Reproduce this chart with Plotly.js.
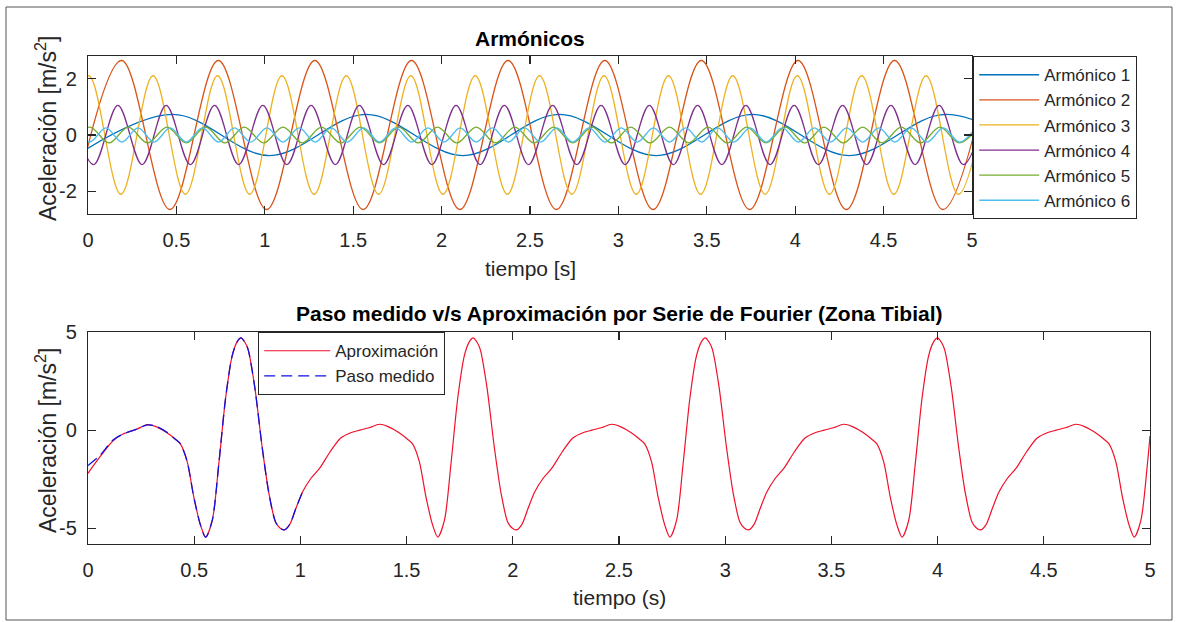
<!DOCTYPE html>
<html>
<head>
<meta charset="utf-8">
<script src="https://cdn.plot.ly/plotly-3.0.1.min.js"></script>
<style>html,body{margin:0;padding:0;background:#fff;}#chart{width:1179px;height:622px;}</style>
</head>
<body>
<div id="chart"></div>
<script>
// ---------- data ----------
const harmonicNames = ['Armónico 1', 'Armónico 2', 'Armónico 3', 'Armónico 4', 'Armónico 5', 'Armónico 6'];
const harmonicColors = ['#0072BD', '#D95319', '#EDB120', '#7E2F8E', '#77AC30', '#4DBEEE'];

// extremes (peaks / troughs) of each harmonic, time [s] and value [m/s^2]
const h1Time = [-0.067, 0.48, 1.027, 1.573, 2.12, 2.666, 3.213, 3.759, 4.306, 4.852, 5.399];
const h1Value = [-0.73, 0.73, -0.73, 0.73, -0.73, 0.73, -0.73, 0.73, -0.73, 0.73, -0.73];

const h2Time = [-0.083, 0.19, 0.463, 0.737, 1.01, 1.283, 1.556, 1.83, 2.103, 2.376, 2.649, 2.923, 3.196, 3.469, 3.742, 4.016, 4.289, 4.562, 4.835, 5.109];
const h2Value = [-2.64, 2.64, -2.64, 2.64, -2.64, 2.64, -2.64, 2.64, -2.64, 2.64, -2.64, 2.64, -2.64, 2.64, -2.64, 2.64, -2.64, 2.64, -2.64, 2.64];

const h3Time = [-0.178, 0.004, 0.186, 0.368, 0.551, 0.733, 0.915, 1.097, 1.279, 1.461, 1.644, 1.826, 2.008, 2.19, 2.372, 2.554, 2.737, 2.919, 3.101, 3.283, 3.465, 3.647, 3.83, 4.012, 4.194, 4.376, 4.558, 4.74, 4.923, 5.105];
const h3Value = [-2.1, 2.1, -2.1, 2.1, -2.1, 2.1, -2.1, 2.1, -2.1, 2.1, -2.1, 2.1, -2.1, 2.1, -2.1, 2.1, -2.1, 2.1, -2.1, 2.1, -2.1, 2.1, -2.1, 2.1, -2.1, 2.1, -2.1, 2.1, -2.1, 2.1];

const h4Time = [-0.104, 0.032, 0.169, 0.306, 0.442, 0.579, 0.716, 0.852, 0.989, 1.125, 1.262, 1.399, 1.535, 1.672, 1.809, 1.945, 2.082, 2.218, 2.355, 2.492, 2.628, 2.765, 2.902, 3.038, 3.175, 3.311, 3.448, 3.585, 3.721, 3.858, 3.994, 4.131, 4.268, 4.404, 4.541, 4.678, 4.814, 4.951, 5.088];
const h4Value = [1.05, -1.05, 1.05, -1.05, 1.05, -1.05, 1.05, -1.05, 1.05, -1.05, 1.05, -1.05, 1.05, -1.05, 1.05, -1.05, 1.05, -1.05, 1.05, -1.05, 1.05, -1.05, 1.05, -1.05, 1.05, -1.05, 1.05, -1.05, 1.05, -1.05, 1.05, -1.05, 1.05, -1.05, 1.05, -1.05, 1.05, -1.05, 1.05];

const h5Time = [-0.100, 0.010, 0.119, 0.228, 0.337, 0.447, 0.556, 0.665, 0.775, 0.884, 0.993, 1.103, 1.212, 1.321, 1.430, 1.540, 1.649, 1.758, 1.868, 1.977, 2.086, 2.196, 2.305, 2.414, 2.523, 2.633, 2.742, 2.851, 2.961, 3.070, 3.179, 3.289, 3.398, 3.507, 3.616, 3.726, 3.835, 3.944, 4.054, 4.163, 4.272, 4.382, 4.491, 4.600, 4.709, 4.819, 4.928, 5.037];
const h5Value = [-0.28, 0.28, -0.28, 0.28, -0.28, 0.28, -0.28, 0.28, -0.28, 0.28, -0.28, 0.28, -0.28, 0.28, -0.28, 0.28, -0.28, 0.28, -0.28, 0.28, -0.28, 0.28, -0.28, 0.28, -0.28, 0.28, -0.28, 0.28, -0.28, 0.28, -0.28, 0.28, -0.28, 0.28, -0.28, 0.28, -0.28, 0.28, -0.28, 0.28, -0.28, 0.28, -0.28, 0.28, -0.28, 0.28, -0.28, 0.28];

const h6Time = [-0.082, 0.009, 0.101, 0.192, 0.283, 0.374, 0.465, 0.556, 0.647, 0.738, 0.829, 0.920, 1.012, 1.103, 1.194, 1.285, 1.376, 1.467, 1.558, 1.649, 1.740, 1.831, 1.923, 2.014, 2.105, 2.196, 2.287, 2.378, 2.469, 2.560, 2.651, 2.742, 2.834, 2.925, 3.016, 3.107, 3.198, 3.289, 3.380, 3.471, 3.562, 3.653, 3.745, 3.836, 3.927, 4.018, 4.109, 4.200, 4.291, 4.382, 4.473, 4.564, 4.656, 4.747, 4.838, 4.929, 5.020];
const h6Value = [0.25, -0.25, 0.25, -0.25, 0.25, -0.25, 0.25, -0.25, 0.25, -0.25, 0.25, -0.25, 0.25, -0.25, 0.25, -0.25, 0.25, -0.25, 0.25, -0.25, 0.25, -0.25, 0.25, -0.25, 0.25, -0.25, 0.25, -0.25, 0.25, -0.25, 0.25, -0.25, 0.25, -0.25, 0.25, -0.25, 0.25, -0.25, 0.25, -0.25, 0.25, -0.25, 0.25, -0.25, 0.25, -0.25, 0.25, -0.25, 0.25, -0.25, 0.25, -0.25, 0.25, -0.25, 0.25, -0.25, 0.25];

// Fourier approximation (red) over 0-5 s
const approxTime = [0, 0.055, 0.118, 0.165, 0.23, 0.28, 0.32, 0.37, 0.41, 0.435, 0.467, 0.498, 0.53, 0.554, 0.585, 0.616, 0.648, 0.679, 0.702, 0.72, 0.74, 0.754, 0.785, 0.82, 0.852, 0.883, 0.905, 0.925, 0.95, 0.98, 1.01, 1.05, 1.09, 1.14, 1.19, 1.24, 1.28,
  1.323, 1.373, 1.413, 1.463, 1.503, 1.528, 1.56, 1.591, 1.623, 1.647, 1.678, 1.709, 1.741, 1.772, 1.795, 1.813, 1.833, 1.847, 1.878, 1.913, 1.945, 1.976, 1.998, 2.018, 2.043, 2.073, 2.103, 2.143, 2.183, 2.233, 2.283, 2.333, 2.373,
  2.416, 2.466, 2.506, 2.556, 2.596, 2.621, 2.653, 2.684, 2.716, 2.74, 2.771, 2.802, 2.834, 2.865, 2.888, 2.906, 2.926, 2.94, 2.971, 3.006, 3.038, 3.069, 3.091, 3.111, 3.136, 3.166, 3.196, 3.236, 3.276, 3.326, 3.376, 3.426, 3.466,
  3.509, 3.559, 3.599, 3.649, 3.689, 3.714, 3.746, 3.777, 3.809, 3.833, 3.864, 3.895, 3.927, 3.958, 3.981, 3.999, 4.019, 4.033, 4.064, 4.099, 4.131, 4.162, 4.184, 4.204, 4.229, 4.259, 4.289, 4.329, 4.369, 4.419, 4.469, 4.519, 4.559,
  4.602, 4.652, 4.692, 4.742, 4.782, 4.807, 4.839, 4.87, 4.902, 4.926, 4.957, 4.988, 5.0];
const approxValue = [-2.2, -1.38, -0.54, -0.2, 0.05, 0.28, 0.18, -0.12, -0.45, -0.7, -1.6, -3.4, -4.85, -5.45, -4.6, -1.7, 1.65, 3.8, 4.5, 4.7, 4.45, 4.1, 2.2, -0.87, -3.23, -4.68, -5.0, -5.08, -4.8, -3.95, -3.15, -2.45, -1.95, -1.1, -0.4, -0.12, 0.0,
  0.12, 0.3, 0.18, -0.12, -0.45, -0.7, -1.6, -3.4, -4.85, -5.45, -4.6, -1.7, 1.65, 3.8, 4.5, 4.7, 4.45, 4.1, 2.2, -0.87, -3.23, -4.68, -5.0, -5.08, -4.8, -3.95, -3.15, -2.45, -1.95, -1.1, -0.4, -0.12, 0.0,
  0.12, 0.3, 0.18, -0.12, -0.45, -0.7, -1.6, -3.4, -4.85, -5.45, -4.6, -1.7, 1.65, 3.8, 4.5, 4.7, 4.45, 4.1, 2.2, -0.87, -3.23, -4.68, -5.0, -5.08, -4.8, -3.95, -3.15, -2.45, -1.95, -1.1, -0.4, -0.12, 0.0,
  0.12, 0.3, 0.18, -0.12, -0.45, -0.7, -1.6, -3.4, -4.85, -5.45, -4.6, -1.7, 1.65, 3.8, 4.5, 4.7, 4.45, 4.1, 2.2, -0.87, -3.23, -4.68, -5.0, -5.08, -4.8, -3.95, -3.15, -2.45, -1.95, -1.1, -0.4, -0.12, 0.0,
  0.12, 0.3, 0.18, -0.12, -0.45, -0.7, -1.6, -3.4, -4.85, -5.45, -4.6, -1.7, -0.3];

// measured step (blue dashed), first step only
const measuredTime = [0, 0.055, 0.118, 0.165, 0.23, 0.28, 0.32, 0.37, 0.41, 0.435, 0.467, 0.498, 0.53, 0.554, 0.585, 0.616, 0.648, 0.679, 0.702, 0.72, 0.74, 0.754, 0.785, 0.82, 0.852, 0.883, 0.905, 0.925, 0.95, 0.98, 1.01];
const measuredValue = [-1.8, -1.3, -0.5, -0.2, 0.05, 0.27, 0.2, -0.1, -0.45, -0.7, -1.6, -3.4, -4.85, -5.45, -4.6, -1.7, 1.65, 3.8, 4.5, 4.7, 4.45, 4.1, 2.2, -0.87, -3.23, -4.68, -5.0, -5.08, -4.8, -3.95, -3.15];

const xTickVals = [0, 0.5, 1, 1.5, 2, 2.5, 3, 3.5, 4, 4.5, 5];
const xTickText = ['0', '0.5', '1', '1.5', '2', '2.5', '3', '3.5', '4', '4.5', '5'];
const yTopTickVals = [-2, 0, 2];
const yTopTickText = ['-2', '0', '2'];
const yBotTickVals = [-5, 0, 5];
const yBotTickText = ['-5', '0', '5'];

const topTitle = 'Armónicos';
const bottomTitle = 'Paso medido v/s Aproximación por Serie de Fourier (Zona Tibial)';
const topXLabel = 'tiempo [s]';
const bottomXLabel = 'tiempo (s)';
const yLabel = 'Aceleración [m/s<sup>2</sup>]';
const approxName = 'Aproximación';
const measuredName = 'Paso medido';

// ---------- figure ----------
const W = 1179, H = 622;
const FONT = '"Liberation Sans", Arial, Helvetica, sans-serif';
const INK = '#262626';
const px = v => v / W;
const py = v => 1 - v / H;

const harmonicTimes = [h1Time, h2Time, h3Time, h4Time, h5Time, h6Time];
const harmonicValues = [h1Value, h2Value, h3Value, h4Value, h5Value, h6Value];

const traces = harmonicNames.map((name, i) => ({
  type: 'scatter', mode: 'lines', name: name,
  x: harmonicTimes[i], y: harmonicValues[i],
  xaxis: 'x', yaxis: 'y', legend: 'legend',
  line: {color: harmonicColors[i], width: 1.3, shape: 'spline', smoothing: 1}
}));
traces.push({
  type: 'scatter', mode: 'lines', name: approxName,
  x: approxTime, y: approxValue, xaxis: 'x2', yaxis: 'y2', legend: 'legend2',
  line: {color: '#F0102A', width: 1.2, shape: 'spline', smoothing: 0.8}
});
traces.push({
  type: 'scatter', mode: 'lines', name: measuredName,
  x: measuredTime, y: measuredValue, xaxis: 'x2', yaxis: 'y2', legend: 'legend2',
  line: {color: '#1010E0', width: 1.3, shape: 'spline', smoothing: 0.8, dash: '11px,6px'}
});

function axisStyle(extra) {
  return Object.assign({
    showline: true, linecolor: INK, linewidth: 1.2, mirror: 'ticks',
    ticks: 'inside', ticklen: 8, tickwidth: 1.2, tickcolor: INK,
    showgrid: false, zeroline: false, automargin: false, fixedrange: true,
    tickfont: {family: FONT, size: 20, color: INK}
  }, extra);
}

const layout = {
  width: W, height: H,
  margin: {l: 0, r: 0, t: 0, b: 0},
  paper_bgcolor: '#fff', plot_bgcolor: '#fff',
  font: {family: FONT, color: INK},
  xaxis: axisStyle({domain: [px(88), px(972)], range: [0, 5], tickvals: xTickVals, ticktext: xTickText, anchor: 'y', ticklabelstandoff: 8}),
  yaxis: axisStyle({domain: [py(214), py(56)], range: [-2.8, 2.8], tickvals: yTopTickVals, ticktext: yTopTickText, anchor: 'x', ticklabelstandoff: 6}),
  xaxis2: axisStyle({domain: [px(88), px(1150)], range: [0, 5], tickvals: xTickVals, ticktext: xTickText, anchor: 'y2', ticklabelstandoff: 8}),
  yaxis2: axisStyle({domain: [py(544), py(332)], range: [-5.8, 5.0], tickvals: yBotTickVals, ticktext: yBotTickText, anchor: 'x2', ticklabelstandoff: 6}),
  legend: {
    x: px(973), y: py(56), xanchor: 'left', yanchor: 'top',
    bgcolor: '#fff', bordercolor: INK, borderwidth: 1.2,
    font: {family: FONT, size: 17, color: INK}, itemwidth: 60
  },
  legend2: {
    x: px(258), y: py(332), xanchor: 'left', yanchor: 'top',
    bgcolor: '#fff', bordercolor: INK, borderwidth: 1.2,
    font: {family: FONT, size: 17, color: INK}, itemwidth: 66
  },
  annotations: [
    {text: '<b>' + topTitle + '</b>', x: px(530), y: py(38), xref: 'paper', yref: 'paper', showarrow: false, xanchor: 'center', yanchor: 'middle', font: {family: FONT, size: 21, color: '#000'}},
    {text: topXLabel, x: px(530), y: py(268), xref: 'paper', yref: 'paper', showarrow: false, xanchor: 'center', yanchor: 'middle', font: {family: FONT, size: 21, color: INK}},
    {text: yLabel, x: px(46), y: py(129), xref: 'paper', yref: 'paper', showarrow: false, xanchor: 'center', yanchor: 'middle', textangle: -90, font: {family: FONT, size: 23, color: INK}},
    {text: '<b>' + bottomTitle + '</b>', x: px(619), y: py(313), xref: 'paper', yref: 'paper', showarrow: false, xanchor: 'center', yanchor: 'middle', font: {family: FONT, size: 21, color: '#000'}},
    {text: bottomXLabel, x: px(619), y: py(597), xref: 'paper', yref: 'paper', showarrow: false, xanchor: 'center', yanchor: 'middle', font: {family: FONT, size: 21, color: INK}},
    {text: yLabel, x: px(46), y: py(441), xref: 'paper', yref: 'paper', showarrow: false, xanchor: 'center', yanchor: 'middle', textangle: -90, font: {family: FONT, size: 23, color: INK}}
  ],
  shapes: [
    {type: 'rect', xref: 'paper', yref: 'paper', x0: px(6), x1: px(1172), y0: py(620), y1: py(7), line: {color: '#555', width: 1}, layer: 'below'}
  ],
  showlegend: true
};

Plotly.newPlot('chart', traces, layout, {staticPlot: true, displayModeBar: false});
</script>
</body>
</html>
